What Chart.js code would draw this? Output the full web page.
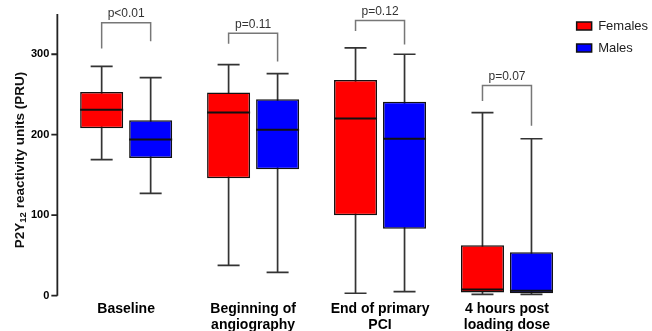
<!DOCTYPE html>
<html>
<head>
<meta charset="utf-8">
<script src="https://cdn.jsdelivr.net/npm/chart.js@4.4.1/dist/chart.umd.min.js"></script>
<style>
  html, body { margin: 0; padding: 0; background: #fff; }
  #wrap { position: relative; width: 652px; height: 331px; }
</style>
</head>
<body>
<div id="wrap"><canvas id="pruChart"></canvas></div>
<script>
var categories = [['Baseline'], ['Beginning of', 'angiography'], ['End of primary', 'PCI'], ['4 hours post', 'loading dose']];

// box plot values (PRU)
var femalesMin    = [169, 37.5, 3, 1.5];
var femalesQ1     = [208, 146, 100, 4];
var femalesMedian = [231, 227.5, 220, 7.5];
var femalesQ3     = [253, 252.5, 268, 62.5];
var femalesMax    = [285, 287, 308, 227.5];

var malesMin    = [127, 29, 5, 1.5];
var malesQ1     = [171, 157, 83, 3];
var malesMedian = [194, 206, 195, 6];
var malesQ3     = [218, 244, 241, 54];
var malesMax    = [271, 276, 300, 195];

// p value brackets (heights in PRU)
var pLabels   = ['p<0.01', 'p=0.11', 'p=0.12', 'p=0.07'];
var pTop      = [339, 326, 342, 261];
var pLeftEnd  = [307, 313, 329, 242];
var pRightEnd = [316, 291, 312, 211];

Chart.defaults.font.family = "'Liberation Sans', Arial, sans-serif";

function boxes(q1, q3) {
  return q1.map(function (v, i) { return { x: i, y: [v, q3[i]] }; });
}

var boxPlugin = {
  id: 'boxParts',
  beforeDatasetsDraw: function (chart) {
    var ctx = chart.ctx, y = chart.scales.y;
    [[femalesMin, femalesMax], [malesMin, malesMax]].forEach(function (w, d) {
      chart.getDatasetMeta(d).data.forEach(function (bar, i) {
        var top = y.getPixelForValue(w[1][i]), bot = y.getPixelForValue(w[0][i]);
        ctx.save();
        ctx.strokeStyle = '#333';
        ctx.lineWidth = 1.7;
        ctx.beginPath();
        ctx.moveTo(bar.x, top); ctx.lineTo(bar.x, bot);
        ctx.moveTo(bar.x - 11, top); ctx.lineTo(bar.x + 11, top);
        ctx.moveTo(bar.x - 11, bot); ctx.lineTo(bar.x + 11, bot);
        ctx.stroke();
        ctx.restore();
      });
    });
  },
  afterDatasetsDraw: function (chart) {
    var ctx = chart.ctx, y = chart.scales.y;
    var fem = chart.getDatasetMeta(0).data, mal = chart.getDatasetMeta(1).data;
    // medians
    [[fem, femalesMedian], [mal, malesMedian]].forEach(function (m) {
      m[0].forEach(function (bar, i) {
        var py = y.getPixelForValue(m[1][i]);
        ctx.save();
        ctx.strokeStyle = '#111';
        ctx.lineWidth = 2;
        ctx.beginPath();
        ctx.moveTo(bar.x - bar.width / 2, py);
        ctx.lineTo(bar.x + bar.width / 2, py);
        ctx.stroke();
        ctx.restore();
      });
    });
    // brackets
    pLabels.forEach(function (txt, i) {
      var xl = fem[i].x, xr = mal[i].x;
      var yt = y.getPixelForValue(pTop[i]);
      ctx.save();
      ctx.strokeStyle = '#777';
      ctx.lineWidth = 1.5;
      ctx.beginPath();
      ctx.moveTo(xl, y.getPixelForValue(pLeftEnd[i]));
      ctx.lineTo(xl, yt);
      ctx.lineTo(xr, yt);
      ctx.lineTo(xr, y.getPixelForValue(pRightEnd[i]));
      ctx.stroke();
      ctx.fillStyle = '#333';
      ctx.font = "12px 'Liberation Sans', Arial, sans-serif";
      ctx.textAlign = 'center';
      ctx.textBaseline = 'middle';
      ctx.fillText(txt, (xl + xr) / 2, yt - 9);
      ctx.restore();
    });
  },
  afterDraw: function (chart) {
    var ctx = chart.ctx, y = chart.scales.y, area = chart.chartArea;
    var ax = area.left;
    ctx.save();
    ctx.strokeStyle = '#222';
    ctx.lineWidth = 1.8;
    ctx.beginPath();
    ctx.moveTo(ax, area.top);
    ctx.lineTo(ax, area.bottom);
    y.ticks.forEach(function (t) {
      var py = y.getPixelForValue(t.value);
      var len = t.value % 100 === 0 ? 6 : 4;
      ctx.moveTo(ax, py);
      ctx.lineTo(ax - len, py);
    });
    ctx.stroke();

    // axis title with subscript
    ctx.translate(20, area.top + 146);
    ctx.rotate(-Math.PI / 2);
    ctx.fillStyle = '#111';
    ctx.textBaseline = 'middle';
    ctx.textAlign = 'left';
    var parts = [['P2Y', 13.5, 0], ['12', 9.5, 3.5], [' reactivity units (PRU)', 13.5, 0]];
    var total = 0;
    parts.forEach(function (p) {
      ctx.font = 'bold ' + p[1] + "px 'Liberation Sans', Arial, sans-serif";
      p.push(ctx.measureText(p[0]).width);
      total += p[3];
    });
    var cx = -total / 2;
    parts.forEach(function (p) {
      ctx.font = 'bold ' + p[1] + "px 'Liberation Sans', Arial, sans-serif";
      ctx.fillText(p[0], cx, p[2]);
      cx += p[3];
    });
    ctx.restore();
  }
};

var config = {
  type: 'bar',
  data: {
    datasets: [
      {
        label: 'Females',
        data: boxes(femalesQ1, femalesQ3),
        backgroundColor: '#ff0000',
        borderColor: '#111',
        borderWidth: 1.5,
        borderSkipped: false,
        categoryPercentage: 0.772,
        barPercentage: 0.878
      },
      {
        label: 'Males',
        data: boxes(malesQ1, malesQ3),
        backgroundColor: '#0000ff',
        borderColor: '#111',
        borderWidth: 1.5,
        borderSkipped: false,
        categoryPercentage: 0.772,
        barPercentage: 0.878
      }
    ]
  },
  options: {
    responsive: true,
    maintainAspectRatio: false,
    animation: false,
    devicePixelRatio: 1,
    layout: { padding: { left: 23, right: -6, top: 10.5, bottom: -8 } },
    plugins: {
      legend: {
        position: 'right',
        align: 'start',
        labels: {
          boxWidth: 15,
          boxHeight: 8,
          padding: 9,
          color: '#222',
          font: { size: 13 }
        }
      },
      tooltip: { enabled: false }
    },
    scales: {
      x: {
        type: 'linear',
        min: -0.542,
        max: 3.478,
        offset: false,
        grid: { display: false, drawTicks: false },
        border: { display: false },
        ticks: {
          stepSize: 1,
          includeBounds: false,
          autoSkip: false,
          maxRotation: 0,
          padding: 6,
          color: '#000',
          font: { size: 14, weight: 'bold', lineHeight: 1.12 },
          callback: function (v) { return categories[v] || null; }
        }
      },
      y: {
        min: 0,
        max: 350,
        grid: { display: false, drawTicks: false },
        border: { display: false },
        ticks: {
          stepSize: 50,
          padding: 8,
          color: '#000',
          font: { size: 11, weight: 'bold' },
          callback: function (v) { return v % 100 === 0 ? v : null; }
        },
        afterFit: function (s) { s.paddingTop = 14; }
      }
    }
  },
  plugins: [boxPlugin]
};

var myChart = new Chart(document.getElementById('pruChart'), config);
</script>
</body>
</html>
